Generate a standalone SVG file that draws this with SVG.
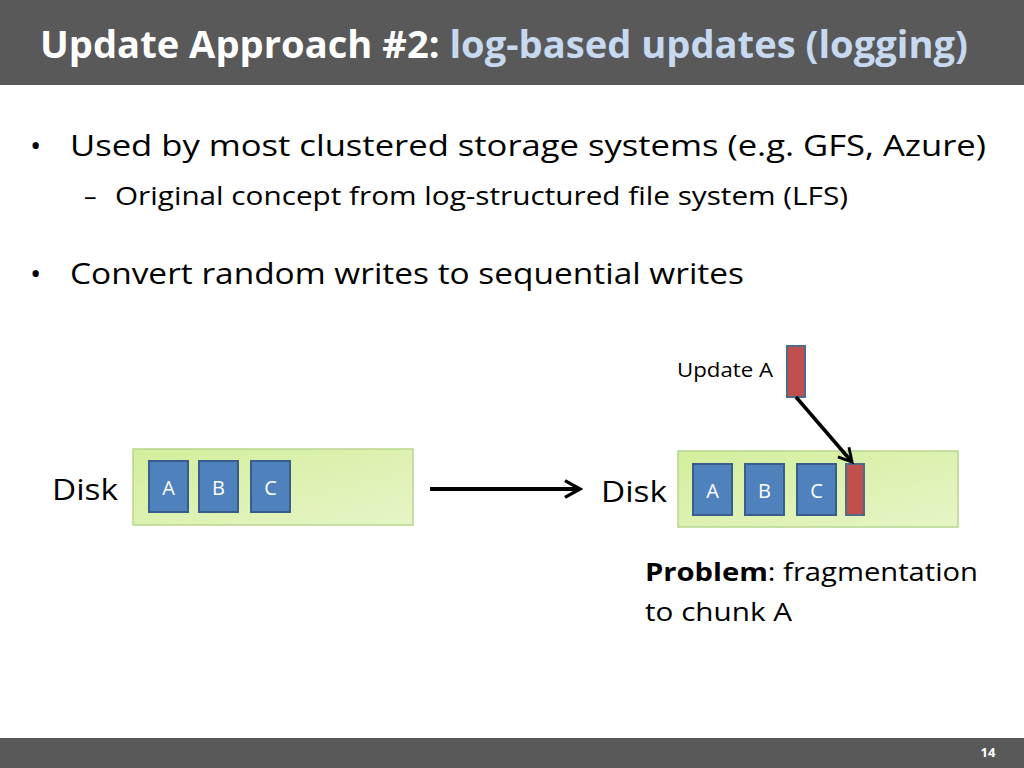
<svg xmlns="http://www.w3.org/2000/svg" width="1024" height="768" viewBox="0 0 1024 768">
<style>
text{font-family:"Open Sans","Noto Sans",sans-serif}
.blk{fill:#4f81bd;stroke:#385d8a;stroke-width:2}
.red{fill:#c0504d;stroke:#4f6b8a;stroke-width:2}
.disk{fill:url(#g);stroke:#b9d68e;stroke-width:1.5}
.lbl{fill:#fff;font-size:20px;text-anchor:middle}
.b{font-size:30px;fill:#000}
.s{font-size:25px;fill:#000}
</style>
<defs>
<linearGradient id="g" x1="0" y1="0" x2="1" y2="1"><stop offset="0" stop-color="#d3ee9c"/><stop offset="1" stop-color="#e6f5c6"/></linearGradient>
<marker id="ah" viewBox="0 0 12 12" refX="10" refY="6" markerWidth="5" markerHeight="5" orient="auto" markerUnits="strokeWidth"><path d="M1,1 L10,6 L1,11" fill="none" stroke="#000" stroke-width="2"/></marker>
</defs>
<rect width="1024" height="768" fill="#fff"/>
<rect width="1024" height="85" fill="#595959"/>
<text x="40" y="58" font-size="37" font-weight="bold" textLength="928" lengthAdjust="spacingAndGlyphs"><tspan fill="#fff">Update Approach #2: </tspan><tspan fill="#c6d9f1">log-based updates (logging)</tspan></text>
<rect y="738" width="1024" height="30" fill="#595959"/>
<text x="988" y="757" font-size="13" font-weight="bold" fill="#fff" text-anchor="middle">14</text>
<text x="30" y="156" class="b">•</text>
<text x="70" y="156" class="b" textLength="916" lengthAdjust="spacingAndGlyphs">Used by most clustered storage systems (e.g. GFS, Azure)</text>
<text x="84" y="205" class="s">–</text>
<text x="115" y="205" class="s" textLength="733" lengthAdjust="spacingAndGlyphs">Original concept from log-structured file system (LFS)</text>
<text x="30" y="284" class="b">•</text>
<text x="70" y="284" class="b" textLength="674" lengthAdjust="spacingAndGlyphs">Convert random writes to sequential writes</text>
<g id="disk1">
<text x="52" y="500" class="b" textLength="66" lengthAdjust="spacingAndGlyphs">Disk</text>
<rect x="133" y="449" width="280" height="76" class="disk"/>
<rect x="149" y="461" width="39" height="51" class="blk"/><text x="168.5" y="495" class="lbl">A</text>
<rect x="199" y="461" width="39" height="51" class="blk"/><text x="218.5" y="495" class="lbl">B</text>
<rect x="251" y="461" width="39" height="51" class="blk"/><text x="270.5" y="495" class="lbl">C</text>
</g>
<g id="disk2">
<text x="601" y="502" class="b" textLength="66" lengthAdjust="spacingAndGlyphs">Disk</text>
<rect x="678" y="451" width="280" height="76" class="disk"/>
<rect x="693" y="464" width="39" height="51" class="blk"/><text x="712.5" y="498" class="lbl">A</text>
<rect x="745" y="464" width="39" height="51" class="blk"/><text x="764.5" y="498" class="lbl">B</text>
<rect x="797" y="464" width="39" height="51" class="blk"/><text x="816.5" y="498" class="lbl">C</text>
<rect x="846" y="464" width="18" height="51" class="red"/>
</g>
<g id="update">
<text x="677" y="377" font-size="20" fill="#000" textLength="96" lengthAdjust="spacingAndGlyphs">Update A</text>
<rect x="787" y="346" width="18" height="51" class="red"/>
</g>
<g id="connectors" stroke="#000" fill="none">
<line x1="430" y1="489" x2="580" y2="489" stroke-width="4" marker-end="url(#ah)"/>
<line x1="796" y1="397" x2="852" y2="462" stroke-width="3.5" marker-end="url(#ah)"/>
</g>
<text x="645" y="581" class="s" textLength="333" lengthAdjust="spacingAndGlyphs"><tspan font-weight="bold">Problem</tspan>: fragmentation</text>
<text x="645" y="621" class="s" textLength="147" lengthAdjust="spacingAndGlyphs">to chunk A</text>
</svg>
